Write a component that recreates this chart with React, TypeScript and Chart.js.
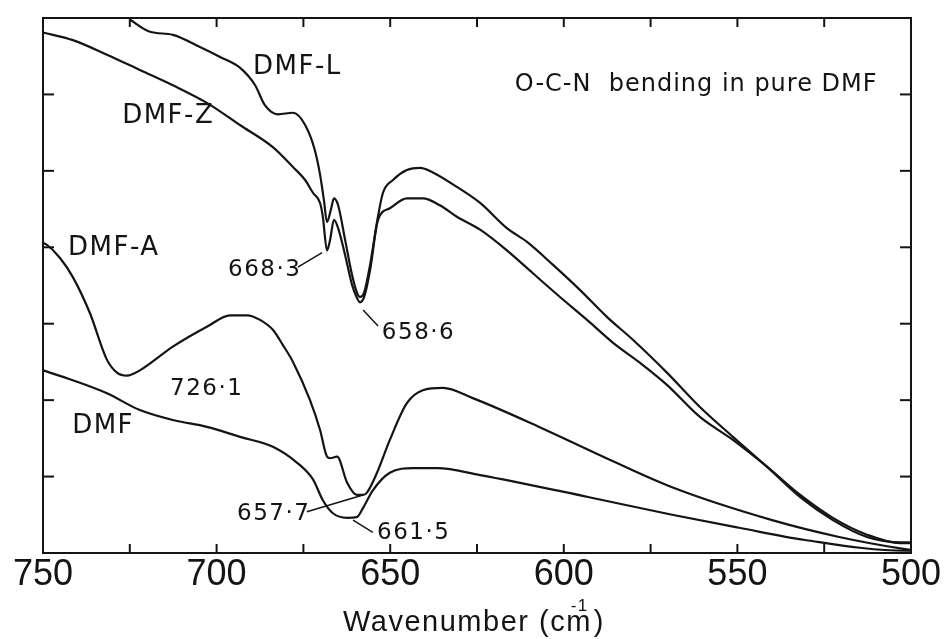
import React, { useEffect, useRef } from 'react';
import { Chart, registerables } from 'chart.js';

Chart.register(...registerables);

// ---- data (wavenumber in cm-1, transmittance in arbitrary units) ----
const wnDMFL = [725, 719.2, 712.6, 704.8, 699, 693.3, 688.9, 686.1, 682.3, 678, 674.5, 671.7, 670.2, 669.1, 668.2, 667.1, 666.2, 665, 663, 661, 659.6, 658.7, 657.5, 655.8, 653.8, 652.1, 649.2, 645.2, 641.4, 637.7, 630.8, 624.1, 616.4, 610.6, 603.1, 595.3, 587.6, 580.1, 570.3, 560.8, 551.3, 541.5, 531.9, 522.5, 512.7, 503.2, 500];
const valDMFL = [6.98, 6.82, 6.78, 6.62, 6.49, 6.35, 6.12, 5.86, 5.74, 5.76, 5.6, 5.27, 4.95, 4.62, 4.33, 4.49, 4.64, 4.55, 4.1, 3.64, 3.41, 3.35, 3.41, 3.77, 4.33, 4.71, 4.88, 5.01, 5.04, 4.98, 4.79, 4.58, 4.25, 4.07, 3.77, 3.44, 3.09, 2.79, 2.36, 1.91, 1.52, 1.13, 0.73, 0.43, 0.21, 0.14, 0.14];

const wnDMFZ = [750, 741.4, 731.6, 722.1, 712.6, 702.8, 693.3, 683.8, 678, 674.5, 672.2, 670.2, 669.4, 668.2, 667.3, 666.2, 665, 663, 661, 659.6, 658.7, 657.5, 655.8, 653.5, 650.1, 645.2, 640.6, 635.7, 630.8, 624.1, 616.4, 608.9, 601.1, 593.3, 585.8, 578.1, 570.3, 560.8, 551.3, 541.5, 531.9, 522.5, 512.7, 503.2, 500];
const valDMFZ = [6.81, 6.71, 6.52, 6.32, 6.12, 5.89, 5.6, 5.31, 5.05, 4.88, 4.71, 4.58, 4.4, 3.96, 4.1, 4.36, 4.25, 3.9, 3.51, 3.34, 3.28, 3.35, 3.7, 4.36, 4.51, 4.64, 4.64, 4.55, 4.4, 4.23, 3.96, 3.66, 3.35, 3.05, 2.75, 2.49, 2.2, 1.78, 1.48, 1.13, 0.76, 0.46, 0.24, 0.13, 0.13];

const wnDMFA = [750, 748.8, 745.1, 741.4, 736.5, 731.6, 728.7, 725.8, 722.1, 712.6, 702.8, 696.1, 691.2, 687.5, 683.8, 680.9, 678, 673.1, 670.2, 668.2, 667.3, 665.3, 662.4, 659.6, 657.8, 656.7, 653.8, 650.1, 645.2, 640.6, 634.8, 626.4, 607.1, 591, 568.8, 540, 520.7, 501.7, 500];
const valDMFA = [4.06, 4.03, 3.86, 3.61, 3.14, 2.53, 2.36, 2.32, 2.39, 2.7, 2.96, 3.11, 3.11, 3.05, 2.92, 2.72, 2.5, 2.0, 1.61, 1.26, 1.24, 1.26, 0.92, 0.76, 0.76, 0.79, 1.05, 1.48, 1.96, 2.13, 2.16, 2.03, 1.65, 1.31, 0.86, 0.43, 0.21, 0.05, 0.04];

const wnDMF = [750, 741.4, 731.6, 722.1, 712.6, 702.8, 693.3, 683.8, 676.8, 672.2, 669.4, 666.5, 662.4, 659.6, 657.8, 655, 650.1, 643.4, 636.5, 624.1, 592.7, 568.8, 549.5, 530.5, 501.7, 500];
const valDMF = [2.39, 2.26, 2.09, 1.87, 1.74, 1.65, 1.52, 1.39, 1.18, 0.96, 0.69, 0.52, 0.46, 0.47, 0.59, 0.82, 1.05, 1.11, 1.11, 1.02, 0.73, 0.5, 0.33, 0.17, 0.03, 0.03];

const xMajorTicks = [750, 700, 650, 600, 550, 500];
const xMinorTicks = [725, 700, 675, 650, 625, 600, 575, 550, 525];
const yTicks = [1, 2, 3, 4, 5, 6];

const axisTitle = 'Wavenumber (cm';
const axisTitleSup = '-1';
const plotTitle = 'O-C-N  bending in pure DMF';

// annotation texts anchored in data units (wavenumber, value), left-aligned
const noteTexts = ['DMF-L', 'DMF-Z', 'DMF-A', 'DMF', '668·3', '658·6', '726·1', '657·7', '661·5'];
const noteWn = [689.5, 727.2, 742.8, 741.6, 696.7, 652.4, 713.4, 694.1, 653.8];
const noteVal = [6.36, 5.72, 3.99, 1.66, 3.7, 2.88, 2.15, 0.51, 0.26];
const notePx = [26, 26, 26, 26, 23, 23, 23, 23, 23];

// leader lines [wn1, v1, wn2, v2]
const leaders = [
  [676.6, 3.74, 669.6, 3.93],
  [657.8, 3.18, 653.5, 2.97],
  [674.0, 0.54, 657.8, 0.76],
  [660.7, 0.43, 655.0, 0.27],
];

const zip = (xs: number[], ys: number[]) => xs.map((x, i) => ({ x, y: ys[i] }));

const INK = '#141414';

const decorPlugin = {
  id: 'decor',
  afterDatasetsDraw(chart: any) {
    const { ctx, chartArea: a, scales } = chart;
    const xs = scales.x;
    const ys = scales.y;
    ctx.save();
    ctx.strokeStyle = INK;
    ctx.fillStyle = INK;
    ctx.lineWidth = 2;
    ctx.lineCap = 'butt';
    ctx.strokeRect(a.left, a.top, a.right - a.left, a.bottom - a.top);

    const seg = (x1: number, y1: number, x2: number, y2: number) => {
      ctx.beginPath();
      ctx.moveTo(x1, y1);
      ctx.lineTo(x2, y2);
      ctx.stroke();
    };
    for (const v of xMinorTicks) {
      const px = xs.getPixelForValue(v);
      seg(px, a.bottom, px, a.bottom - 9);
      seg(px, a.top, px, a.top + 9);
    }
    for (const v of yTicks) {
      const py = ys.getPixelForValue(v);
      seg(a.left, py, a.left + 11, py);
      seg(a.right, py, a.right - 11, py);
    }

    // leader lines
    ctx.lineWidth = 1.5;
    for (const l of leaders) {
      seg(xs.getPixelForValue(l[0]), ys.getPixelForValue(l[1]), xs.getPixelForValue(l[2]), ys.getPixelForValue(l[3]));
    }

    // notes
    ctx.textAlign = 'left';
    ctx.textBaseline = 'middle';
    try { (ctx as any).letterSpacing = '1.5px'; } catch (e) {}
    noteTexts.forEach((t, i) => {
      ctx.font = `${notePx[i]}px "DejaVu Sans", sans-serif`;
      ctx.fillText(t, xs.getPixelForValue(noteWn[i]), ys.getPixelForValue(noteVal[i]));
    });

    // plot title
    try { (ctx as any).letterSpacing = '1px'; } catch (e) {}
    ctx.font = '24px "DejaVu Sans", sans-serif';
    ctx.fillText(plotTitle, xs.getPixelForValue(614.1), ys.getPixelForValue(6.12));

    // axis title with superscript
    try { (ctx as any).letterSpacing = '1.5px'; } catch (e) {}
    ctx.textBaseline = 'alphabetic';
    ctx.font = '29px "Liberation Sans", Arial, sans-serif';
    const mainW = ctx.measureText(axisTitle).width;
    const closeW = ctx.measureText(')').width;
    ctx.font = '17px "Liberation Sans", Arial, sans-serif';
    const supW = ctx.measureText(axisTitleSup).width;
    const total = mainW + closeW + 2;
    const cx = (a.left + a.right) / 2 - 3;
    const x0 = cx - total / 2;
    const base = 631;
    ctx.font = '29px "Liberation Sans", Arial, sans-serif';
    ctx.fillText(axisTitle, x0, base);
    ctx.fillText(')', x0 + mainW + 2, base);
    ctx.font = '17px "Liberation Sans", Arial, sans-serif';
    ctx.fillText(axisTitleSup, x0 + mainW - supW - 3, base - 20);
    ctx.restore();
  },
};

export default function App() {
  const ref = useRef<HTMLCanvasElement>(null);
  useEffect(() => {
    if (!ref.current) return;
    const common = {
      borderColor: INK,
      borderWidth: 2.2,
      pointRadius: 0,
      fill: false,
      cubicInterpolationMode: 'monotone' as const,
      clip: 6,
    };
    const chart = new Chart(ref.current, {
      type: 'line',
      data: {
        datasets: [
          { label: 'DMF-L', data: zip(wnDMFL, valDMFL), ...common },
          { label: 'DMF-Z', data: zip(wnDMFZ, valDMFZ), ...common },
          { label: 'DMF-A', data: zip(wnDMFA, valDMFA), ...common },
          { label: 'DMF', data: zip(wnDMF, valDMF), ...common },
        ],
      },
      options: {
        responsive: false,
        animation: false,
        events: [],
        layout: { padding: { left: 43, right: 33, top: 18, bottom: 0 } },
        plugins: { legend: { display: false }, tooltip: { enabled: false }, title: { display: false } },
        scales: {
          x: {
            type: 'linear',
            reverse: true,
            min: 500,
            max: 750,
            afterFit: (s: any) => { s.height = 86; },
            afterBuildTicks: (s: any) => { s.ticks = xMajorTicks.map((v) => ({ value: v })); },
            grid: { display: false, drawTicks: false },
            border: { display: false },
            ticks: {
              padding: 0,
              maxRotation: 0,
              autoSkip: false,
              color: INK,
              font: { family: '"Liberation Sans", Arial, sans-serif', size: 36 },
              callback: (v: any) => String(v),
            },
          },
          y: {
            type: 'linear',
            min: 0,
            max: 7,
            display: false,
          },
        },
      },
      plugins: [decorPlugin],
    });
    return () => chart.destroy();
  }, []);
  return (
    <div style={{ position: 'fixed', left: 0, top: 0, width: 944, height: 639, background: '#fff' }}>
      <canvas ref={ref} width={944} height={639} style={{ display: 'block', width: 944, height: 639 }} />
    </div>
  );
}
